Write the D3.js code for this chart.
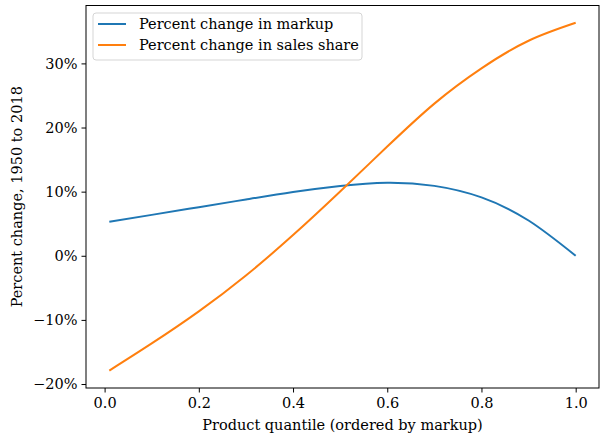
<!DOCTYPE html>
<html>
<head>
<meta charset="utf-8">
<script src="https://cdn.jsdelivr.net/npm/d3@7"></script>
<style>
  body { margin: 0; background: #fff; }
  text { font-family: "DejaVu Serif", serif; fill: #000; }
</style>
</head>
<body>
<div id="chart"></div>
<script>
var quantiles = [0.01, 0.1, 0.2, 0.3, 0.4, 0.5, 0.6, 0.7, 0.8, 0.9, 1.0];
var markupChange = [5.3, 6.38, 7.58, 8.78, 9.95, 10.9, 11.4, 10.9, 9.1, 5.5, 0.0];
var salesChange = [-17.9, -13.67, -8.67, -3.07, 3.23, 10.03, 17.03, 23.73, 29.23, 33.53, 36.33];
var seriesNames = ["Percent change in markup", "Percent change in sales share"];
var xTicks = [0.0, 0.2, 0.4, 0.6, 0.8, 1.0];
var yTicks = [-20, -10, 0, 10, 20, 30];

var W = 610, H = 436;
var margin = { top: 5.5, right: 11, bottom: 48, left: 86 };
var width = W - margin.left - margin.right,
    height = H - margin.top - margin.bottom;
var FS = "14.5px";

var svg = d3.select("#chart")
    .append("svg")
    .attr("width", W)
    .attr("height", H)
    .append("g")
    .attr("transform", "translate(" + margin.left + "," + margin.top + ")");

// matplotlib style 5% margins
var x = d3.scaleLinear().domain([-0.0395, 1.0495]).range([0, width]);
var y = d3.scaleLinear().domain([-20.62, 39.03]).range([height, 0]);

var colors = ["#1f77b4", "#ff7f0e"];
var data = [markupChange, salesChange].map(function (vals, i) {
    return {
        name: seriesNames[i],
        values: quantiles.map(function (q, j) { return { q: q, v: vals[j] }; })
    };
});

var line = d3.line()
    .x(function (d) { return x(d.q); })
    .y(function (d) { return y(d.v); })
    .curve(d3.curveNatural);

svg.selectAll(".series")
    .data(data)
    .enter()
    .append("path")
    .attr("d", function (d) { return line(d.values); })
    .attr("stroke", function (d, i) { return colors[i]; })
    .attr("stroke-width", 2)
    .attr("fill", "none");

// axes
var fmtPct = function (d) { return (d < 0 ? "\u2212" + (-d) : d) + "%"; };

var xAxis = svg.append("g")
    .attr("transform", "translate(0," + height + ")")
    .call(d3.axisBottom(x).tickValues(xTicks).tickFormat(d3.format(".1f")).tickSize(4.5).tickPadding(5));

var yAxis = svg.append("g")
    .call(d3.axisLeft(y).tickValues(yTicks).tickFormat(fmtPct).tickSize(4.5).tickPadding(4));

[xAxis, yAxis].forEach(function (a) {
    a.select(".domain").remove();
    a.selectAll("text").style("font-family", "DejaVu Serif").style("font-size", FS);
    a.selectAll("line").attr("stroke", "#000").attr("stroke-width", 1);
});

// frame
svg.append("rect")
    .attr("x", 0).attr("y", 0)
    .attr("width", width).attr("height", height)
    .attr("fill", "none")
    .attr("stroke", "#000")
    .attr("stroke-width", 1);

// labels
svg.append("text")
    .attr("x", width / 2)
    .attr("y", height + 42)
    .attr("text-anchor", "middle")
    .style("font-size", FS)
    .text("Product quantile (ordered by markup)");

svg.append("text")
    .attr("transform", "translate(" + (-64) + "," + (height / 2) + ") rotate(-90)")
    .attr("text-anchor", "middle")
    .style("font-size", FS)
    .text("Percent change, 1950 to 2018");

// legend
var legend = svg.append("g").attr("transform", "translate(7,7.5)");
legend.append("rect")
    .attr("width", 269).attr("height", 47)
    .attr("rx", 3).attr("ry", 3)
    .attr("fill", "#fff").attr("fill-opacity", 0.8)
    .attr("stroke", "#d5d5d5");

var items = legend.selectAll(".item")
    .data(data)
    .enter()
    .append("g")
    .attr("transform", function (d, i) { return "translate(0," + (11 + i * 21) + ")"; });

items.append("line")
    .attr("x1", 5).attr("x2", 33)
    .attr("stroke", function (d, i) { return colors[i]; })
    .attr("stroke-width", 2);

items.append("text")
    .attr("x", 46)
    .attr("dy", "0.35em")
    .style("font-size", FS)
    .text(function (d) { return d.name; });
</script>
</body>
</html>
